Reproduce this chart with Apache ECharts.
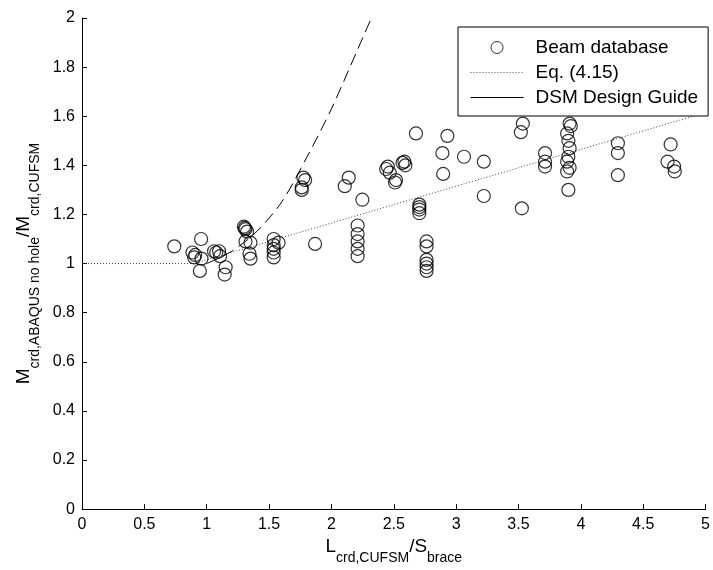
<!DOCTYPE html>
<html>
<head>
<meta charset="utf-8">
<script src="https://cdn.jsdelivr.net/npm/echarts@6/dist/echarts.min.js"></script>
<style>html,body{margin:0;padding:0;background:#fff;}#c{width:713px;height:570px;}</style>
</head>
<body>
<div id="c"></div>
<script>
// Beam database (scatter)
var beamX = [0.74,0.955,0.886,0.908,0.90,0.958,0.945,1.059,1.099,1.077,1.107,1.152,1.144,
  1.298,1.311,1.324,1.306,1.311,1.351,1.343,1.351,
  1.537,1.537,1.537,1.537,1.537,1.576,
  1.775,1.789,1.762,1.762,1.869,
  2.139,2.107,2.248,2.21,2.21,2.21,2.21,2.21,
  2.439,2.452,2.468,2.585,2.593,2.57,2.518,2.510,
  2.678,2.930,2.890,3.063,2.896,
  2.705,2.705,2.705,2.705,
  2.763,2.763,2.763,2.763,2.763,2.763,
  3.535,3.519,3.222,3.222,3.527,
  3.713,3.713,3.713,
  3.91,3.92,3.89,3.90,3.91,3.90,3.89,3.91,3.89,3.90,
  4.297,4.297,4.297,
  4.72,4.695,4.748,4.753];
var beamY = [1.07,1.10,1.045,1.035,1.025,1.02,0.97,1.05,1.05,1.045,1.03,0.985,0.955,
  1.15,1.14,1.13,1.145,1.09,1.085,1.04,1.02,
  1.10,1.075,1.06,1.045,1.025,1.085,
  1.35,1.34,1.31,1.30,1.08,
  1.35,1.315,1.26,1.155,1.12,1.09,1.06,1.03,
  1.385,1.395,1.37,1.415,1.40,1.41,1.34,1.33,
  1.53,1.52,1.45,1.435,1.365,
  1.24,1.23,1.22,1.205,
  1.09,1.07,1.015,1.0,0.985,0.97,
  1.57,1.535,1.415,1.275,1.225,
  1.45,1.415,1.395,
  1.57,1.56,1.53,1.50,1.47,1.435,1.415,1.39,1.375,1.30,
  1.49,1.45,1.36,
  1.485,1.415,1.395,1.375];

// Eq. (4.15)
var eqX = [0,0.9,1.2,1.5,2.0,2.5,3.0,3.5,4.0,4.5,5.0];
var eqY = [1.0,1.0,1.045,1.09,1.165,1.24,1.315,1.39,1.465,1.54,1.615];

// DSM Design Guide
var dsmX = [1.0,1.2,1.4,1.6,1.8,2.0,2.2,2.32];
var dsmY = [1.0,1.05,1.13,1.25,1.43,1.63,1.86,2.0];

var xTicks = [0,0.5,1,1.5,2,2.5,3,3.5,4,4.5,5];
var yTicks = [0,0.2,0.4,0.6,0.8,1,1.2,1.4,1.6,1.8,2];

function pairs(xs, ys){ return xs.map(function(x,i){return [x, ys[i]];}); }

var FONT = 'Liberation Sans, Arial, Helvetica, sans-serif';
var chart = echarts.init(document.getElementById('c'), null, {renderer:'canvas'});
var subRich = {
  m: {fontSize:19, lineHeight:20, verticalAlign:'top', fontFamily:FONT, color:'#000'},
  s: {fontSize:14, lineHeight:14, padding:[14,0,0,0], verticalAlign:'top', fontFamily:FONT, color:'#000'}
};
chart.setOption({
  animation:false,
  backgroundColor:'#fff',
  grid:{left:82, right:3, top:18, bottom:60, containLabel:false},
  xAxis:{
    type:'value', min:xTicks[0], max:xTicks[xTicks.length-1], interval:0.5,
    name:'{m|L}{s|crd,CUFSM}{m|/S}{s|brace}',
    nameLocation:'middle', nameGap:18,
    nameTextStyle:{rich:subRich},
    axisLine:{show:true, lineStyle:{color:'#000', width:1}},
    axisTick:{show:true, inside:true, length:5, lineStyle:{color:'#000'}},
    axisLabel:{fontSize:16, color:'#000', fontFamily:FONT, margin:7,
      formatter:function(v){return String(v);}},
    splitLine:{show:false}
  },
  yAxis:{
    type:'value', min:yTicks[0], max:yTicks[yTicks.length-1], interval:0.2,
    name:'{m|M}{s|crd,ABAQUS no hole}{m|/M}{s|crd,CUFSM}',
    nameLocation:'middle', nameGap:42, nameRotate:90,
    nameTextStyle:{rich:subRich},
    axisLine:{show:true, lineStyle:{color:'#000', width:1}},
    axisTick:{show:true, inside:true, length:5, lineStyle:{color:'#000'}},
    axisLabel:{fontSize:16, color:'#000', fontFamily:FONT, margin:7,
      formatter:function(v){return String(Math.round(v*10)/10);}},
    splitLine:{show:false}
  },
  legend:{
    orient:'vertical', left:458, top:27,
    padding:[11,10,9,12], itemWidth:53, itemHeight:12, itemGap:6,
    borderColor:'#000', borderWidth:1, backgroundColor:'#fff',
    textStyle:{fontFamily:FONT, fontSize:19, color:'#000', padding:[0,0,0,7]},
    data:[
      {name:'Beam database', icon:'circle', itemStyle:{color:'rgba(0,0,0,0)', borderColor:'#000', borderWidth:1}},
      {name:'Eq. (4.15)', itemStyle:{opacity:0}, lineStyle:{color:'#555', width:1, type:[1,2]}},
      {name:'DSM Design Guide', itemStyle:{opacity:0}, lineStyle:{color:'#000', width:1, type:'solid'}}
    ]
  },
  series:[
    {
      name:'Beam database', type:'scatter', data:pairs(beamX, beamY),
      symbol:'circle', symbolSize:13,
      itemStyle:{color:'rgba(0,0,0,0)', borderColor:'#000', borderWidth:1.2},
      z:3
    },
    {
      name:'Eq. (4.15)', type:'line', data:pairs(eqX, eqY),
      symbol:'none', showSymbol:false,
      lineStyle:{color:'#444', width:1, type:[1,2]},
      itemStyle:{color:'#444'},
      z:2
    },
    {
      name:'DSM Design Guide', type:'line', data:pairs(dsmX, dsmY),
      symbol:'none', showSymbol:false, smooth:0.3,
      lineStyle:{color:'#000', width:1, type:[12,6]},
      itemStyle:{color:'#000'},
      z:2
    }
  ]
});
</script>
</body>
</html>
